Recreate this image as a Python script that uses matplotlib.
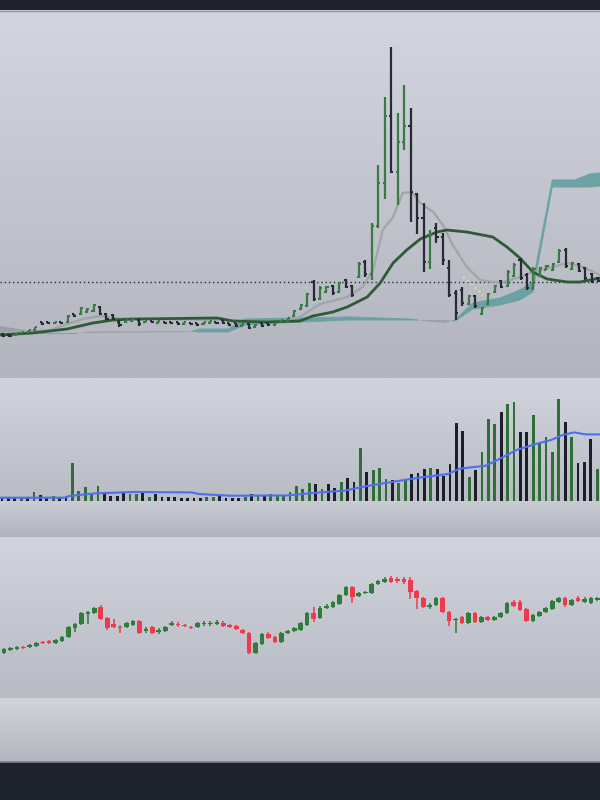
import numpy as np
import matplotlib
matplotlib.use("Agg")
import matplotlib.pyplot as plt
from matplotlib.colors import LinearSegmentedColormap
from matplotlib.lines import Line2D

# ---------------- Panel 1: OHLC bars (price) ----------------
p1_high = [45, 44, 45, 46, 48, 51, 56, 56, 56, 56, 63, 64, 71, 70, 74, 72, 65, 64, 58, 58,
           59, 59, 57, 57, 57, 56, 56, 56, 56, 55, 55, 56, 57, 56, 58, 55, 55, 54, 55, 54,
           55, 55, 55, 58, 60, 68, 74, 85, 98, 92, 92, 93, 96, 99, 93, 116, 118, 155, 213, 281,
           331, 265, 293, 270, 185, 175, 148, 155, 145, 118, 88, 91, 83, 83, 71, 85, 93, 98, 108, 115,
           120, 105, 111, 111, 113, 115, 129, 130, 116, 115, 111, 105, 101]
p1_low = [41, 41, 42, 44, 45, 47, 53, 54, 54, 54, 55, 61, 63, 65, 66, 63, 58, 58, 51, 55,
          56, 52, 55, 55, 54, 54, 54, 53, 53, 53, 52, 53, 54, 54, 54, 52, 51, 51, 49, 50,
          51, 52, 52, 55, 55, 61, 68, 71, 77, 78, 85, 83, 85, 90, 81, 100, 101, 98, 150, 179,
          205, 173, 228, 156, 144, 106, 109, 135, 113, 81, 58, 72, 73, 70, 63, 73, 85, 90, 91, 101,
          98, 88, 88, 101, 108, 107, 115, 110, 108, 106, 98, 95, 96]
p1_open = [44, 43, 42.5, 44.5, 45.5, 47.5, 55.5, 55.5, 54.5, 55.5, 56, 63.5, 64, 65.5, 67, 71, 64, 63, 56, 55.5,
           56.5, 58, 55.5, 56.5, 55, 55.5, 55.5, 55.5, 53.5, 54.5, 54.5, 53.5, 54.5, 55.5, 57.5, 54.5, 54.5, 51.5, 54, 50.5,
           54.5, 54.5, 52.5, 55.5, 55.5, 61.5, 68.5, 72, 96, 79, 86, 92, 86, 98, 92, 101, 116, 104, 152, 195,
           262, 206, 236, 252, 184, 160, 116, 150, 141, 110, 85, 88, 74, 82, 64, 74, 86, 97, 92, 102,
           118, 103, 90, 102, 108.5, 108, 116, 128, 109, 114, 110, 104, 100]
p1_close = [42, 42, 44, 45.5, 47.5, 50.5, 53.5, 54.5, 55.5, 54.5, 62, 61.5, 70, 69, 73, 64, 59, 59, 53, 57.5,
            58.5, 54, 56.5, 55.5, 56.5, 54.5, 54.5, 53.5, 55.5, 53.5, 52.5, 55.5, 56.5, 54.5, 54.5, 52.5, 51.5, 53.5, 50, 53,
            51.5, 52.5, 54.5, 57.5, 59.5, 67, 73, 84, 79, 90, 91, 85, 95, 91, 83, 114, 104, 152, 195, 262,
            206, 236, 252, 186, 160, 116, 144, 141, 118, 83, 65, 75, 82, 72, 70, 84, 92, 91, 106, 113,
            100, 90, 109, 110, 112, 114, 127, 112, 115, 107, 100, 96, 97]

# moving averages (bar index, value)
ma_fast_x = [-0.5, 7.3, 9.9, 12.4, 15.0, 17.6, 20.1, 33.1, 38.2, 42.8, 45.9, 49.0, 53.2, 55.6, 57.2, 58.7,
             60.3, 61.8, 63.2, 64.5, 66.5, 68.0, 69.6, 71.7, 73.7, 76.8, 79.9, 81.9, 85.0, 87.2, 89.6, 92.3]
ma_fast = [45, 48, 54, 59, 62, 60, 59, 58, 57, 55, 61, 74, 81, 91, 108, 148,
           161, 185, 186, 175, 166, 153, 132, 111, 98, 95, 101, 106, 111, 115, 111, 103]
ma_slow_x = [-0.5, 4.6, 9.9, 13.9, 17.0, 20.1, 33.1, 35.5, 40.8, 45.9, 47.9, 51.0, 53.2, 56.3, 58.3, 60.3,
             62.4, 64.5, 67.1, 68.6, 71.7, 75.7, 77.9, 79.9, 81.9, 84.1, 87.2, 89.2, 92.3]
ma_slow = [43, 45, 49, 55, 58, 59, 60, 57, 56, 57, 62, 66, 71, 81, 95, 115,
           128, 139, 146, 148, 146, 141, 131, 120, 106, 99, 96, 96, 100]

# cloud spans
cloud_x = [-0.5, 3.4, 5.7, 11.4, 13.5, 28.9, 30.4, 34.8, 37.4, 45.9, 53.6, 62.9, 65.2, 68.3, 69.9,
           72.6, 76.8, 79.9, 81.9, 84.9, 88.4, 90.7, 92.3]
span_a = [45, 46, 45, 45, 45, 46, 49, 49, 59, 60, 61, 59, 57, 55, 58, 75, 80, 88, 96, 198, 198, 204, 205]
span_b = [52, 48, 45, 45, 46.5, 47, 46, 46, 53, 56, 58, 58, 58, 58, 57, 69, 73, 78, 86, 191, 191, 191, 192]

ref_level = 96
sar_x = [71.1, 72.6, 74.2]
sar_y = [101, 93, 83]

# ---------------- Panel 2: volume ----------------
volume = [4, 3, 3, 4, 4, 8.3, 5.7, 3.7, 5, 4, 3.7, 37.3, 10, 13.3, 6.7, 14.7, 6.7, 5, 5, 7.3,
          6.3, 6.3, 8, 4, 6.3, 4, 4, 4, 2.3, 3, 3, 3, 4, 4, 5, 3, 3, 3, 4, 6.3,
          5.7, 5, 6.3, 5.7, 5, 8.3, 14.7, 11.7, 17.3, 16.7, 11.7, 16.7, 12.3, 18.7, 23, 18.7, 52.3, 28.3, 30.7, 32.3,
          21.7, 20.7, 17.3, 21.7, 26.3, 28, 31.7, 32.3, 31.3, 24.7, 36.3, 77.3, 70, 24, 30.7, 49, 81.7, 76.3, 89, 96.7,
          98.3, 68.3, 68.3, 85.7, 57.3, 63.3, 49, 101.3, 78.3, 64, 37.3, 38.3, 61.7, 31.7]
vol_up = [0, 0, 0, 1, 0, 1, 0, 0, 1, 0, 0, 1, 1, 1, 1, 1, 0, 0, 0, 0,
          1, 1, 0, 1, 0, 0, 0, 0, 0, 0, 0, 0, 1, 1, 0, 0, 0, 0, 1, 0,
          1, 0, 1, 1, 1, 1, 1, 1, 1, 0, 1, 0, 0, 1, 0, 0, 1, 0, 1, 1,
          1, 0, 1, 1, 0, 0, 0, 1, 0, 0, 0, 0, 0, 1, 0, 1, 1, 1, 0, 1,
          1, 0, 0, 1, 1, 1, 1, 1, 0, 1, 0, 0, 0, 1]
vol_ma_x = [-0.3, 9.8, 10.5, 14.6, 20.6, 29.6, 30.8, 35.6, 44.5, 50.5, 53.5, 56.5, 59.5, 65.5, 69.7,
            71.5, 75.6, 77.4, 80.4, 83.4, 85.8, 87.6, 89.4, 91.2, 93.4]
vol_ma = [3, 3, 4.7, 7.3, 8.7, 8.3, 6.7, 5, 5.3, 8.7, 10, 14, 17.3, 23.3, 26.7,
          32, 35, 40.7, 50.7, 56.7, 60.7, 65.7, 68.3, 66.3, 66.3]

# ---------------- Panel 3: candlesticks ----------------
c_open = [45, 48, 49, 51, 51, 52, 56, 57, 55, 57, 61, 70, 74, 84, 85, 91, 80, 74, 71, 71,
          73, 77, 67, 71, 66, 67, 73, 74, 73, 71, 71, 74, 74, 74, 75, 73, 72, 68, 65, 45,
          54, 64, 61, 56, 65, 67, 68, 73, 85, 80, 90, 91, 94, 103, 111, 102, 105, 105, 114, 116,
          120, 119, 119, 118, 107, 100, 91, 93, 100, 86, 78, 81, 75, 85, 76, 81, 78, 81, 85, 96,
          96, 89, 77, 82, 86, 89, 96, 100, 93, 100, 96, 95, 98]
c_close = [49, 50, 51, 50, 53, 55, 55, 55, 58, 61, 71, 74, 85, 86, 90, 79, 70, 71, 70, 75,
           77, 65, 69, 65, 68, 71, 75, 73, 72, 70, 75, 75, 75, 76, 72, 71, 69, 65, 45, 55,
           64, 60, 56, 65, 67, 70, 75, 85, 79, 90, 92, 96, 103, 111, 101, 105, 106, 114, 117, 119,
           116, 117, 116, 106, 100, 91, 93, 100, 86, 77, 79, 75, 85, 76, 81, 78, 81, 85, 95, 92,
           88, 77, 83, 86, 90, 97, 100, 93, 98, 97, 99, 100, 100]
c_high = [50, 51, 52, 52, 54, 56, 57, 58, 59, 62, 72, 75, 86, 87, 91, 93, 81, 79, 73, 76,
          78, 78, 71, 72, 70, 72, 77, 76, 74, 72, 76, 77, 77, 78, 77, 74, 73, 69, 66, 56,
          65, 66, 62, 66, 68, 71, 76, 86, 91, 92, 94, 97, 104, 112, 112, 106, 107, 115, 118, 121,
          122, 121, 121, 121, 108, 101, 95, 101, 101, 87, 80, 82, 86, 86, 82, 82, 82, 86, 96, 98,
          98, 90, 84, 87, 91, 98, 101, 101, 99, 102, 101, 101, 101]
c_low = [44, 47, 48, 49, 50, 51, 54, 54, 54, 56, 60, 66, 73, 74, 84, 78, 68, 70, 65, 70,
         72, 64, 65, 64, 64, 66, 72, 71, 71, 69, 70, 72, 72, 73, 71, 70, 68, 64, 44, 44,
         53, 59, 55, 55, 64, 66, 67, 72, 76, 79, 89, 90, 93, 102, 95, 101, 104, 104, 113, 115,
         115, 115, 114, 99, 89, 90, 89, 92, 85, 72, 65, 74, 74, 75, 75, 77, 77, 80, 84, 91,
         87, 76, 76, 81, 85, 88, 95, 91, 92, 96, 95, 94, 97]

# ---------------- style ----------------
W, H = 600, 800
DARK = '#1e222d'
BAR_GREEN = '#3b7a45'
BAR_DARK = '#262b36'
VOL_GREEN = '#2f6e36'
VOL_DARK = '#1c1f28'
C_GREEN = '#2e7d3a'
C_RED = '#ef3a4c'

fig = plt.figure(figsize=(6, 8), dpi=100, facecolor=DARK)


def band(top, bottom, c_top='#d2d4de', c_bot='#b3b5bf'):
    ax = fig.add_axes([0, 1 - bottom / H, 1, (bottom - top) / H])
    cmap = LinearSegmentedColormap.from_list('g', [c_top, c_bot])
    grad = np.linspace(0, 1, 256).reshape(-1, 1)
    ax.imshow(grad, aspect='auto', cmap=cmap, extent=[0, 1, 0, 1], origin='upper',
              interpolation='bilinear')
    ax.set_axis_off()
    return ax


def data_ax(top, bottom):
    ax = fig.add_axes([0, 1 - bottom / H, 1, (bottom - top) / H])
    ax.set_axis_off()
    return ax


band(10, 378, '#d3d5df', '#b2b4be')
band(378, 500.7, '#d1d3dd', '#babcc5')
band(500.7, 537, '#cbcdd6', '#b1b3bc')
band(537, 698, '#d1d3dd', '#b9bbc4')
band(698, 762, '#d2d4dc', '#b3b6be')

fig.add_artist(Line2D([0, 1], [1 - 10.5 / H] * 2, color='#8e919c', lw=1))
fig.add_artist(Line2D([0, 1], [1 - 762 / H] * 2, color='#7c7f89', lw=1.2))

# ---- panel 1 ----
ax1 = data_ax(10, 378)
ax1.set_xlim(-0.46, 92.28)
ax1.set_ylim(0, 368)
cx = np.array(cloud_x)
sa = np.array(span_a)
sb = np.array(span_b)
ax1.fill_between(cx, sa, sb, where=sa >= sb, interpolate=True, color='#5f9c9e', alpha=0.85, lw=0.8,
                 edgecolor='#6aa2a4', zorder=1)
ax1.fill_between(cx, sa, sb, where=sa < sb, interpolate=True, color='#9796a3', alpha=0.75, lw=0, zorder=1)
ax1.axhline(ref_level, color='#2a2e39', lw=1, ls=(0, (1, 2)), zorder=2)
ax1.plot(sar_x, sar_y, color='#e6dc9a', lw=1.5, ls=(0, (1, 1.5)), zorder=2)
ax1.plot(ma_fast_x, ma_fast, color='#a0a6a5', lw=1.6, zorder=3, solid_capstyle='round')
ax1.plot(ma_slow_x, ma_slow, color='#2f5a38', lw=2, zorder=3, solid_capstyle='round')

n1 = len(p1_high)
idx1 = np.arange(n1)
cols1 = [BAR_GREEN if c >= o else BAR_DARK for o, c in zip(p1_open, p1_close)]
ax1.vlines(idx1, p1_low, p1_high, colors=cols1, lw=1.6, zorder=4)
ax1.hlines(p1_open, idx1 - 0.32, idx1, colors=cols1, lw=1.5, zorder=4)
ax1.hlines(p1_close, idx1, idx1 + 0.32, colors=cols1, lw=1.5, zorder=4)

# ---- panel 2 ----
ax2 = data_ax(378, 500.7)
ax2.set_xlim(-0.31, 93.44)
ax2.set_ylim(0, 122.7)
idx2 = np.arange(len(volume))
cols2 = [VOL_GREEN if u else VOL_DARK for u in vol_up]
ax2.bar(idx2, volume, width=0.45, color=cols2, lw=0, zorder=2)
ax2.plot(vol_ma_x, vol_ma, color='#4f6ef0', lw=1.5, zorder=3)

# ---- panel 3 ----
ax3 = data_ax(537, 698)
ax3.set_xlim(-0.62, 92.4)
ax3.set_ylim(0, 161)
idx3 = np.arange(len(c_open))
o3 = np.array(c_open, float)
c3 = np.array(c_close, float)
cols3 = [C_GREEN if c >= o else C_RED for o, c in zip(o3, c3)]
ax3.vlines(idx3, c_low, c_high, colors=cols3, lw=1.1, zorder=2)
bottoms = np.minimum(o3, c3)
heights = np.maximum(np.abs(c3 - o3), 0.9)
ax3.bar(idx3, heights, bottom=bottoms, width=0.72, color=cols3, lw=0, zorder=3)

fig.savefig('out.png', dpi=100, facecolor=DARK)
